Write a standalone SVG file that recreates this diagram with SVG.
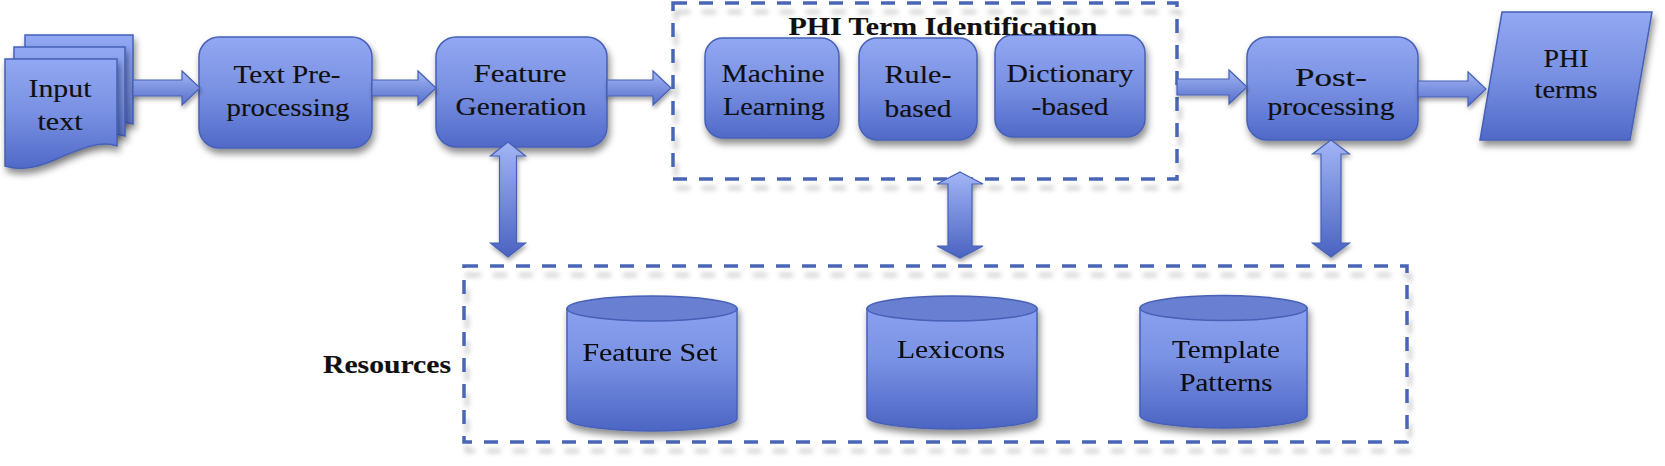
<svg xmlns="http://www.w3.org/2000/svg" width="1665" height="466" viewBox="0 0 1665 466">
<style>
.box{fill:url(#boxGrad);stroke:#4660b6;stroke-width:1.5;filter:url(#shadow)}
.cyl{fill:url(#cylGrad);stroke:#4660b6;stroke-width:1.5}
.cyltop{fill:#677fd2;stroke:#4660b6;stroke-width:1.5}
.lbl{font-family:"Liberation Serif","Times New Roman",serif;font-size:26px;fill:#101010;stroke:#101010;stroke-width:0.15;text-anchor:middle}
.bold{font-weight:bold}
.dash{fill:none;stroke:#4a66b6;stroke-width:3.5;stroke-dasharray:14 12;filter:url(#dshadow)}
.harrow{fill:url(#hArrowGrad);stroke:#4660b6;stroke-width:1.2;filter:url(#ashadow)}
.varrow{fill:url(#vArrowGrad);stroke:#4660b6;stroke-width:1.2;filter:url(#ashadow)}
</style>
<defs>
<linearGradient id="boxGrad" x1="0" y1="0" x2="0" y2="1">
<stop offset="0" stop-color="#93a8f3"/>
<stop offset="0.5" stop-color="#7890e2"/>
<stop offset="1" stop-color="#5069c8"/>
</linearGradient>
<linearGradient id="cylGrad" x1="0" y1="0" x2="0" y2="1">
<stop offset="0" stop-color="#8aa0ef"/>
<stop offset="0.4" stop-color="#7b93e5"/>
<stop offset="1" stop-color="#4c65c3"/>
</linearGradient>
<linearGradient id="hArrowGrad" x1="0" y1="0" x2="0" y2="1">
<stop offset="0" stop-color="#a3b6f5"/>
<stop offset="1" stop-color="#566fca"/>
</linearGradient>
<linearGradient id="vArrowGrad" x1="0" y1="0" x2="0" y2="1">
<stop offset="0" stop-color="#a2b5f6"/>
<stop offset="1" stop-color="#4a63c1"/>
</linearGradient>
<filter id="shadow" x="-20%" y="-20%" width="140%" height="150%">
<feDropShadow dx="2" dy="5" stdDeviation="3.5" flood-color="#000" flood-opacity="0.45"/>
</filter>
<filter id="ashadow" x="-30%" y="-30%" width="160%" height="160%">
<feDropShadow dx="1" dy="3" stdDeviation="2" flood-color="#000" flood-opacity="0.35"/>
</filter>
<filter id="dshadow" x="-5%" y="-10%" width="110%" height="130%">
<feDropShadow dx="3" dy="9" stdDeviation="2.5" flood-color="#000" flood-opacity="0.22"/>
</filter>
</defs>
<rect width="1665" height="466" fill="#ffffff"/>

<g id="phi-term-identification">
<rect class="dash" x="673" y="3" width="504" height="176"/>
</g>
<g id="resources">
<rect class="dash" x="464" y="266" width="943" height="176"/>
<text class="lbl bold" x="387" y="373" textLength="128" lengthAdjust="spacingAndGlyphs">Resources</text>
</g>

<g id="input-text">
<path class="box" d="M25,35 H133 V124 C116,119 96,127 76,135 C59,142 40,147 25,141 Z"/>
<path class="box" d="M14,47 H125 V136 C108,131 88,139 67,147 C50,154 31,159 14,153 Z"/>
<path class="box" d="M5,59 H117 V146 C100,140 80,149 59,158 C42,166 22,172 5,166 Z"/>
<text class="lbl" x="60" y="97" textLength="63" lengthAdjust="spacingAndGlyphs">Input</text>
<text class="lbl" x="60" y="130" textLength="45" lengthAdjust="spacingAndGlyphs">text</text>
</g>

<g id="text-preprocessing">
<rect class="box" x="199" y="37" width="173" height="111" rx="20"/>
<text class="lbl" x="287" y="83" textLength="107" lengthAdjust="spacingAndGlyphs">Text Pre-</text>
<text class="lbl" x="288" y="116" textLength="123" lengthAdjust="spacingAndGlyphs">processing</text>
</g>

<g id="feature-generation">
<rect class="box" x="436" y="37" width="171" height="110" rx="20"/>
<text class="lbl" x="520" y="82" textLength="93" lengthAdjust="spacingAndGlyphs">Feature</text>
<text class="lbl" x="521" y="115" textLength="131" lengthAdjust="spacingAndGlyphs">Generation</text>
</g>

<g id="machine-learning">
<rect class="box" x="705" y="38" width="134" height="100" rx="18"/>
<text class="lbl" x="773" y="82" textLength="103" lengthAdjust="spacingAndGlyphs">Machine</text>
<text class="lbl" x="774" y="115" textLength="102" lengthAdjust="spacingAndGlyphs">Learning</text>
</g>

<g id="rule-based">
<rect class="box" x="859" y="38" width="118" height="102" rx="18"/>
<text class="lbl" x="918" y="83" textLength="67" lengthAdjust="spacingAndGlyphs">Rule-</text>
<text class="lbl" x="918" y="117" textLength="67" lengthAdjust="spacingAndGlyphs">based</text>
</g>

<g id="dictionary-based">
<rect class="box" x="995" y="35" width="150" height="102" rx="18"/>
<text class="lbl" x="1070" y="82" textLength="127" lengthAdjust="spacingAndGlyphs">Dictionary</text>
<text class="lbl" x="1070" y="115" textLength="77" lengthAdjust="spacingAndGlyphs">-based</text>
</g>

<g id="phi-title">
<text class="lbl bold" x="943" y="35" textLength="309" lengthAdjust="spacingAndGlyphs">PHI Term Identification</text>
</g>

<g id="post-processing">
<rect class="box" x="1247" y="37" width="171" height="103" rx="20"/>
<text class="lbl" x="1331" y="86" textLength="72" lengthAdjust="spacingAndGlyphs">Post-</text>
<text class="lbl" x="1331" y="115" textLength="127" lengthAdjust="spacingAndGlyphs">processing</text>
</g>

<g id="phi-terms">
<path class="box" d="M1502,12 H1652 L1630,140 H1480 Z"/>
<text class="lbl" x="1566" y="67" textLength="45" lengthAdjust="spacingAndGlyphs">PHI</text>
<text class="lbl" x="1566" y="98" textLength="63" lengthAdjust="spacingAndGlyphs">terms</text>
</g>

<g id="feature-set" filter="url(#shadow)">
<path class="cyl" d="M567,308.5 V418.5 A85,12.5 0 0 0 737,418.5 V308.5 Z"/>
<ellipse class="cyltop" cx="652" cy="308.5" rx="85" ry="12.5"/>
<text class="lbl" x="650" y="361" textLength="135" lengthAdjust="spacingAndGlyphs">Feature Set</text>
</g>

<g id="lexicons" filter="url(#shadow)">
<path class="cyl" d="M867,308.5 V416.5 A85,12.5 0 0 0 1037,416.5 V308.5 Z"/>
<ellipse class="cyltop" cx="952" cy="308.5" rx="85" ry="12.5"/>
<text class="lbl" x="951" y="358" textLength="108" lengthAdjust="spacingAndGlyphs">Lexicons</text>
</g>

<g id="template-patterns" filter="url(#shadow)">
<path class="cyl" d="M1140,308 V415.5 A83.5,12.5 0 0 0 1307,415.5 V308 Z"/>
<ellipse class="cyltop" cx="1223.5" cy="308" rx="83.5" ry="12.5"/>
<text class="lbl" x="1226" y="358" textLength="108" lengthAdjust="spacingAndGlyphs">Template</text>
<text class="lbl" x="1226" y="391" textLength="93" lengthAdjust="spacingAndGlyphs">Patterns</text>
</g>

<g id="connectors">
<path class="harrow" d="M133,80 H182 V71 L200,88 L182,105 V96 H133 Z"/>
<path class="harrow" d="M372,80 H418 V71 L436,88 L418,105 V96 H372 Z"/>
<path class="harrow" d="M607,80 H653 V71 L671,88 L653,105 V96 H607 Z"/>
<path class="harrow" d="M1177,79 H1229 V70 L1247,87 L1229,104 V95 H1177 Z"/>
<path class="harrow" d="M1418,81 H1468 V72 L1486,89 L1468,106 V97 H1418 Z"/>
<path class="varrow" d="M508,142 L525.5,156 H516.5 V243 H525.5 L508,257 L490.5,243 H499.5 V156 H490.5 Z"/>
<path class="varrow" d="M960,172 L983,184 H972 V246 H983 L960,258 L937,246 H948 V184 H937 Z"/>
<path class="varrow" d="M1331,140 L1349.5,154 H1341 V243 H1349.5 L1331,257 L1312.5,243 H1321 V154 H1312.5 Z"/>
</g>
</svg>
